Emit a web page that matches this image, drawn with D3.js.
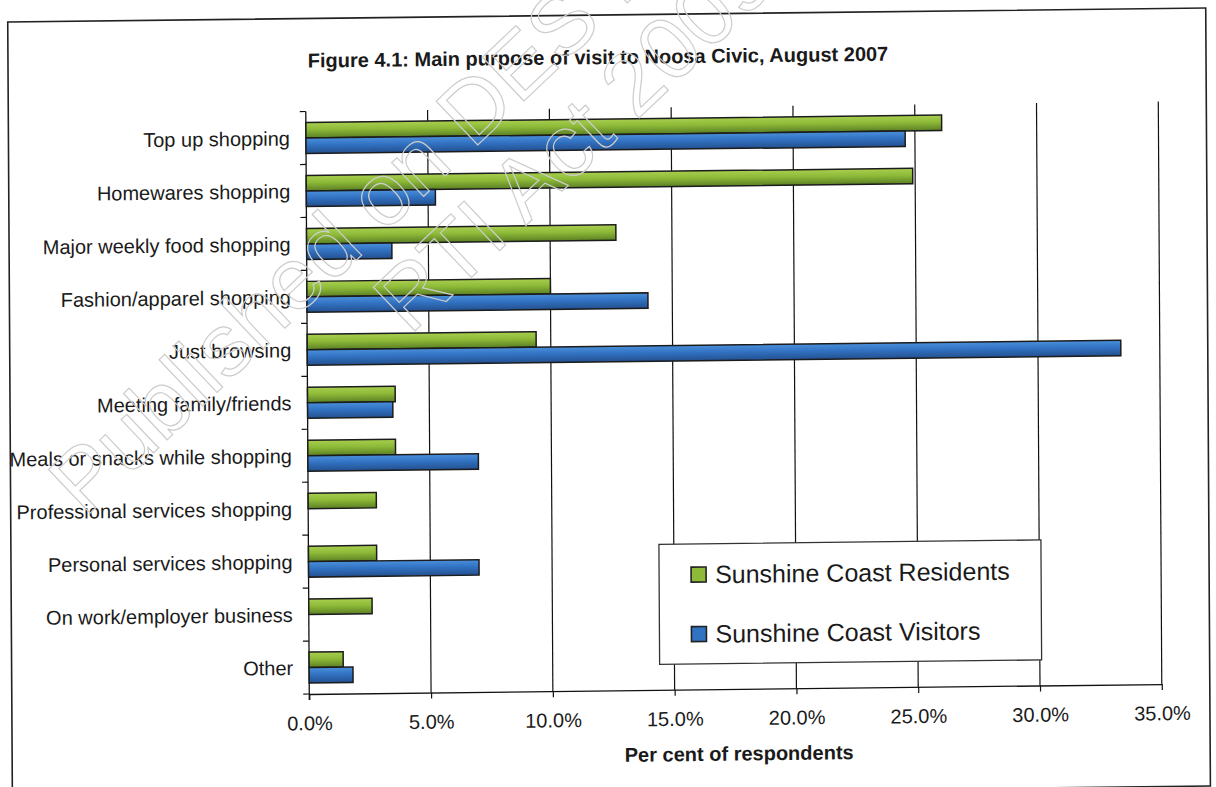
<!DOCTYPE html>
<html>
<head>
<meta charset="utf-8">
<script src="https://cdn.jsdelivr.net/npm/d3@7"></script>
<style>
  html, body { margin: 0; padding: 0; background: #fff; }
  svg { display: block; }
  text { font-family: "Liberation Sans", Arial, Helvetica, sans-serif; fill: #1a1a1a; }
</style>
</head>
<body>
<svg id="chart" width="1216" height="787"></svg>
<script>
// ---- data ----
const categories = [
  "Top up shopping",
  "Homewares shopping",
  "Major weekly food shopping",
  "Fashion/apparel shopping",
  "Just browsing",
  "Meeting family/friends",
  "Meals or snacks while shopping",
  "Professional services shopping",
  "Personal services shopping",
  "On work/employer business",
  "Other"
];
const residents = [26.1, 24.9, 12.7, 10.0, 9.4, 3.6, 3.6, 2.8, 2.8, 2.6, 1.4];
const visitors  = [24.6, 5.3, 3.5, 14.0, 33.4, 3.5, 7.0, 0, 7.0, 0, 1.8];
const seriesNames = ["Sunshine Coast Residents", "Sunshine Coast Visitors"];
const xTicks = [0, 5, 10, 15, 20, 25, 30, 35];
const chartTitle = "Figure 4.1: Main purpose of visit to Noosa Civic, August 2007";
const xTitle = "Per cent of respondents";
const stampLines = ["Published on DES Disclosure Log", "RTI Act 2009"];

// ---- layout ----
const plot = { left: 307.5, right: 1160, top: 108, bottom: 690.5 };

const svg = d3.select("#chart");
const defs = svg.append("defs");

// shaded bar fills
function addGradient(id, stops) {
  const g = defs.append("linearGradient").attr("id", id)
    .attr("x1", 0).attr("y1", 0).attr("x2", 0).attr("y2", 1);
  stops.forEach(([o, c]) => g.append("stop").attr("offset", o).attr("stop-color", c));
}
addGradient("gGreen", [[0, "#a9cf4f"], [0.45, "#8dba38"], [1, "#5b7f24"]]);
addGradient("gBlue",  [[0, "#4a90dc"], [0.45, "#3272c2"], [1, "#23508f"]]);
const fills = ["url(#gGreen)", "url(#gBlue)"];
const swatchFills = ["#8dba38", "#3272c2"];

// the printed page sits slightly askew
const root = svg.append("g")
  .attr("transform", "matrix(1,-0.0117,0.006,1,-2.358,7.114)");

// page frame
root.append("rect")
  .attr("x", 10).attr("y", 15).attr("width", 1198).attr("height", 778)
  .attr("fill", "none").attr("stroke", "#222").attr("stroke-width", 1.6);

// scales
const x = d3.scaleLinear().domain([0, 35]).range([plot.left, plot.right]);
const y = d3.scaleBand().domain(categories)
  .range([plot.top, plot.bottom]).paddingInner(0.415).paddingOuter(0.2075);
const ySub = d3.scaleBand().domain([0, 1]).range([0, y.bandwidth()]);

// vertical gridlines
root.append("g").selectAll("line")
  .data(xTicks.filter(d => d > 0))
  .join("line")
  .attr("x1", d => x(d)).attr("x2", d => x(d))
  .attr("y1", plot.top).attr("y2", plot.bottom)
  .attr("stroke", "#111").attr("stroke-width", 1.2);

// x axis
const xAxis = root.append("g")
  .attr("transform", `translate(0,${plot.bottom})`)
  .call(d3.axisBottom(x).tickValues(xTicks)
    .tickFormat(d => d.toFixed(1) + "%").tickSize(6).tickSizeOuter(0).tickPadding(16));
xAxis.select(".domain").attr("stroke", "#111").attr("stroke-width", 1.3);
xAxis.selectAll(".tick line").attr("stroke", "#111").attr("stroke-width", 1.2);
xAxis.selectAll("text").attr("font-size", 20).attr("fill", "#1a1a1a")
  .style("font-family", '"Liberation Sans", Arial, sans-serif');

// y axis (labels) plus boundary ticks between categories
const yAxis = root.append("g")
  .attr("transform", `translate(${plot.left},0)`)
  .call(d3.axisLeft(y).tickSize(0).tickPadding(16));
yAxis.select(".domain").remove();
yAxis.selectAll("text").attr("font-size", 20).attr("dy", "0.36em").attr("fill", "#1a1a1a")
  .style("font-family", '"Liberation Sans", Arial, sans-serif');

root.append("line")
  .attr("x1", plot.left).attr("x2", plot.left)
  .attr("y1", plot.top).attr("y2", plot.bottom + 6)
  .attr("stroke", "#111").attr("stroke-width", 1.3);
const edges = d3.range(categories.length + 1).map(i => plot.top + i * y.step());
root.append("g").selectAll("line").data(edges).join("line")
  .attr("x1", plot.left - 6).attr("x2", plot.left)
  .attr("y1", d => d).attr("y2", d => d)
  .attr("stroke", "#111").attr("stroke-width", 1.2);

// bars
const rows = categories.map((c, i) => ({ c, vals: [residents[i], visitors[i]] }));
const bars = root.append("g");
rows.forEach(r => {
  r.vals.forEach((v, s) => {
    if (v <= 0) return;
    bars.append("rect")
      .attr("x", x(0))
      .attr("y", y(r.c) + ySub(s))
      .attr("width", x(v) - x(0))
      .attr("height", ySub.bandwidth())
      .attr("fill", fills[s])
      .attr("stroke", "#1c1c1c").attr("stroke-width", 1.5);
  });
});

// legend
const lg = root.append("g");
lg.append("rect")
  .attr("x", 658).attr("y", 545).attr("width", 382).attr("height", 120)
  .attr("fill", "#fff").attr("stroke", "#333").attr("stroke-width", 1.3);
const legendRows = [575.6, 635.1];
seriesNames.forEach((name, i) => {
  lg.append("rect")
    .attr("x", 690).attr("y", legendRows[i] - 7.5).attr("width", 15).attr("height", 15)
    .attr("fill", swatchFills[i]).attr("stroke", "#222").attr("stroke-width", 1.6);
  lg.append("text")
    .attr("x", 714).attr("y", legendRows[i]).attr("dy", "0.35em")
    .attr("font-size", 25).text(name);
});

// titles
root.append("text")
  .attr("x", 600).attr("y", 64).attr("text-anchor", "middle")
  .attr("font-size", 20).attr("font-weight", "bold").text(chartTitle);
root.append("text")
  .attr("x", 737).attr("y", 762).attr("text-anchor", "middle")
  .attr("font-size", 20).attr("font-weight", "bold").text(xTitle);

// outlined disclosure stamp across the page
const stamp = root.append("g")
  .attr("transform", "translate(84,512) rotate(-43)")
  .attr("fill", "none").attr("stroke", "#cdcdcd").attr("stroke-width", 1.2);
stamp.append("text").attr("x", 0).attr("y", 0)
  .attr("font-size", 88).style("fill", "none").text(stampLines[0]);
stamp.append("text").attr("x", 360).attr("y", 92)
  .attr("font-size", 88).style("fill", "none").text(stampLines[1]);
</script>
</body>
</html>
